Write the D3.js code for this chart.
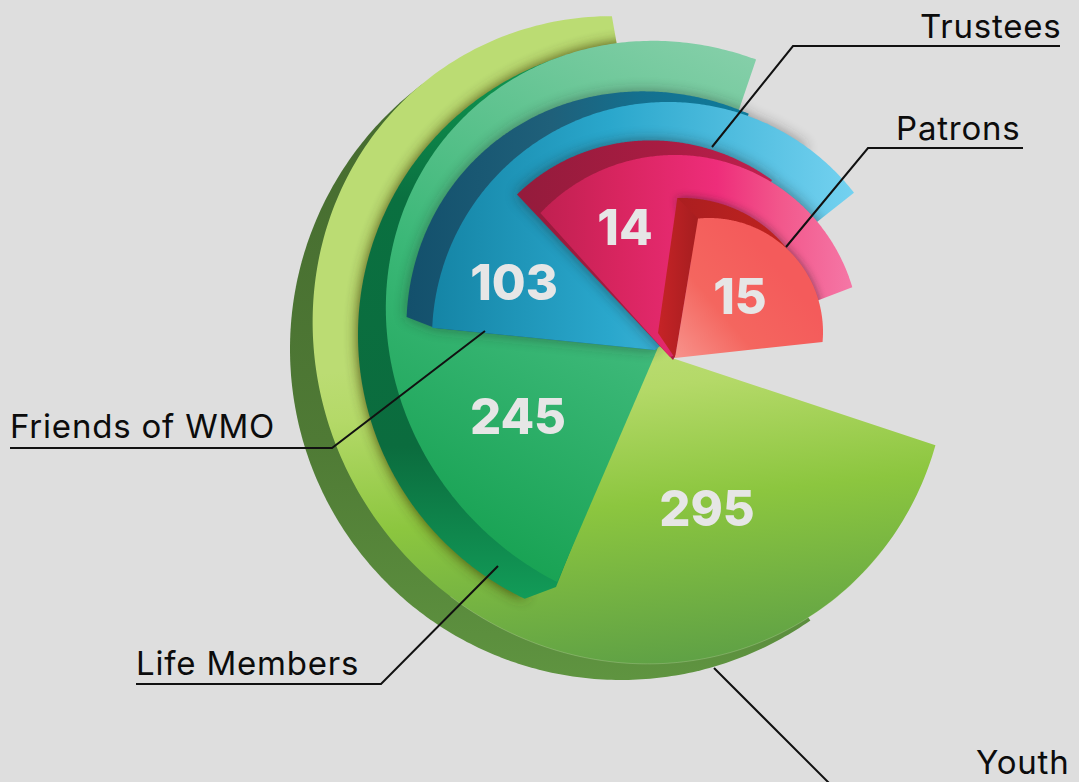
<!DOCTYPE html>
<html>
<head>
<meta charset="utf-8">
<script src="https://cdn.jsdelivr.net/npm/d3@7"></script>
<style>
  html, body { margin: 0; padding: 0; background: #dedede; overflow: hidden; }
  svg { display: block; }
  .name { font-family: Inter, sans-serif; font-size: 33px; font-weight: 400; letter-spacing: 0.8px; fill: #0c0c0c; }
  .count { font-family: Inter, sans-serif; font-size: 49px; font-weight: 800; fill: #e6e6e6; text-anchor: middle; }
</style>
</head>
<body>
<div id="chart"></div>
<script>
// Values
const categories = ["Youth", "Life Members", "Friends of WMO", "Trustees", "Patrons"];
const members = [295, 245, 103, 14, 15];

const width = 1079;
const height = 782;

// Rim of each wedge: centre, radii along the tilted axes, tilt, sweep (degrees clockwise from north)
const faceRim = d3.scaleOrdinal().domain(categories).range([
    { cx: 630, cy: 340, rx: 330, ry: 311, rot: 55, a0: 109, a1: 356.8, apex: [672, 358] },
    { cx: 673, cy: 328, rx: 297, ry: 277, rot: 45, a0: 204.5, a1: 377.2, apex: [657, 350] },
    { cx: 668, cy: 338, rx: 236, ry: 236, rot: 0, a0: 272.5, a1: 412, apex: [655, 350] },
    { cx: 675, cy: 340, rx: 185, ry: 185, rot: 0, a0: 313.3, a1: 433.4, apex: [670, 357] },
    { cx: 709, cy: 332, rx: 114, ry: 114, rot: 0, a0: 354.5, a1: 455, apex: [675, 358] }
]);
const wallRim = d3.scaleOrdinal().domain(categories).range([
    { cx: 621, cy: 349, rx: 331, ry: 331, rot: 0, a0: 145.1, a1: 323.4, apex: [621, 349] },
    { cx: 650, cy: 335, rx: 292, ry: 292, rot: 0, a0: 205.4, a1: 345, apex: [650, 350], corner: [556, 587] },
    { cx: 660, cy: 345, rx: 262, ry: 245, rot: 45, a0: 276.3, a1: 381, apex: [655, 350], corner: [435, 328] },
    { cx: 660, cy: 340, rx: 204, ry: 195, rot: 45, a0: 315.5, a1: 395, apex: [673, 360] },
    { cx: 682, cy: 332, rx: 134, ry: 134, rot: 0, a0: 358, a1: 411.3, apex: [700, 300] }
]);
// Where the number sits on each wedge
const countPos = d3.scaleOrdinal().domain(categories).range([[707, 526], [518, 434], [514, 300], [625, 245], [740, 314]]);
// Leader line from the wedge to the underline of its name
const leader = d3.scaleOrdinal().domain(categories).range([
    [[714, 668], [830, 784], [1075, 784]],
    [[498, 566], [381, 684], [136, 684]],
    [[485, 331], [332, 448], [10, 448]],
    [[712, 147], [793, 46], [1060, 46]],
    [[786, 247], [868, 148], [1023, 148]]
]);
const namePos = d3.scaleOrdinal().domain(categories).range([[976, 774], [136, 675], [10, 438], [920, 38], [896, 140]]);

const faceGrad = d3.scaleOrdinal().domain(categories).range([
    { from: [630, 340], to: [665, 665], stops: [[0, "#bbdc73"], [0.15, "#b4d968"], [0.5, "#8cc63f"], [1, "#5fa145"]] },
    { from: [760, 60], to: [480, 580], stops: [[0, "#85cfa9"], [0.55, "#3cb878"], [1, "#14a04f"]] },
    { from: [435, 0], to: [851, 0], stops: [[0, "#1585a6"], [0.42, "#2aa7cc"], [1, "#73d1f0"]] },
    { from: [540, 0], to: [850, 0], stops: [[0, "#c02050"], [0.26, "#d92560"], [0.57, "#ee2d7a"], [0.78, "#f2588c"], [1, "#f576a5"]] },
    { from: [680, 355], to: [780, 270], stops: [[0, "#f78f88"], [0.45, "#f4665f"], [1, "#f45b5b"]] }
]);
const wallGrad = d3.scaleOrdinal().domain(categories).range([
    { from: [0, 80], to: [0, 680], stops: [[0, "#456a2f"], [0.6, "#4f7a35"], [1, "#5f9440"]] },
    { from: [0, 50], to: [0, 600], stops: [[0, "#0f9a52"], [0.27, "#0a7040"], [0.72, "#0b6c3e"], [1, "#129c58"]] },
    { from: [407, 0], to: [735, 0], stops: [[0, "#13506c"], [0.44, "#1f607a"], [0.71, "#14708f"], [1, "#0f7a9a"]] },
    { from: [517, 0], to: [780, 0], stops: [[0, "#941b3c"], [0.55, "#a81c42"], [1, "#c2204f"]] },
    { from: [677, 0], to: [787, 0], stops: [[0, "#ab1e20"], [1, "#c0231f"]] }
]);

const rad = Math.PI / 180;
const line = d3.line();

function rim(e) {
    return d3.quantize(d3.interpolateNumber(e.a0, e.a1), 240).map(deg => {
        const t = (deg - e.rot) * rad;
        const r = e.rx * e.ry / Math.hypot(e.ry * Math.sin(t), e.rx * Math.cos(t));
        const p = d3.pointRadial(deg * rad, r);
        return [e.cx + p[0], e.cy + p[1]];
    });
}
const facePath = c => { const e = faceRim(c); return line([e.apex, ...rim(e)]) + "Z"; };
const wallPath = c => {
    const e = wallRim(c);
    const pts = e.corner ? [e.apex, e.corner, ...rim(e)] : [e.apex, ...rim(e)];
    return line(pts) + "Z";
};
// Shape that throws the shadow: no shadow along the straight cut edges of the two big wedges
function shadowPath(d) {
    const e = faceRim(d.name);
    if (d.i === 1) {
        return line([[500, 350], ...rim(wallRim(d.name))]) + "Z"
            + line([[600, 300], ...rim({ ...e, a0: 300 })]) + "Z";
    }
    if (d.i === 2) {
        return wallPath(d.name) + line([e.apex, ...rim({ ...e, a1: e.a1 - 16 })]) + "Z";
    }
    return wallPath(d.name) + facePath(d.name);
}

const svg = d3.select("#chart").append("svg")
    .attr("width", width)
    .attr("height", height);
const defs = svg.append("defs");

function addGradient(id, g) {
    const lg = defs.append("linearGradient").attr("id", id)
        .attr("gradientUnits", "userSpaceOnUse")
        .attr("x1", g.from[0]).attr("y1", g.from[1])
        .attr("x2", g.to[0]).attr("y2", g.to[1]);
    g.stops.forEach(s => lg.append("stop").attr("offset", s[0]).attr("stop-color", s[1]));
}
[["a", 7], ["b", 4]].forEach(k => {
    const f = defs.append("filter").attr("id", "blur-" + k[0])
        .attr("filterUnits", "userSpaceOnUse")
        .attr("x", 0).attr("y", 0).attr("width", width).attr("height", height);
    f.append("feGaussianBlur").attr("stdDeviation", k[1]);
});
categories.forEach((c, i) => {
    addGradient("face-" + i, faceGrad(c));
    addGradient("wall-" + i, wallGrad(c));
    defs.append("clipPath").attr("id", "clip-" + i).append("path").attr("d", facePath(c));
});
addGradient("side-4", { from: [660, 0], to: [695, 0], stops: [[0, "#c42326"], [1, "#a81e20"]] });

const rows = categories.map((c, i) => ({ name: c, value: members[i], i: i }));

const wedges = svg.selectAll("g.wedge")
    .data(rows)
    .join("g")
    .attr("class", "wedge");

wedges.each(function (d) {
    const g = d3.select(this);
    if (d.i === 0) {
        g.append("path").attr("d", wallPath(d.name)).attr("fill", "url(#wall-0)");
        g.append("path").attr("d", facePath(d.name)).attr("fill", "url(#face-0)");
        // faint light edge where the face meets the wall
        const e = faceRim(d.name);
        g.append("path")
            .attr("d", line(rim({ ...e, a0: 130, a1: 215 })))
            .attr("fill", "none")
            .attr("stroke", "#e4eccb")
            .attr("stroke-width", 0.7)
            .attr("opacity", 0.35);
        return;
    }
    // soft shadow the wedge drops on the one behind it
    const shadow = g.append("g").attr("opacity", d.i === 1 ? 0.9 : d.i === 2 ? 0.45 : 0.55);
    if (d.i !== 2) shadow.attr("clip-path", `url(#clip-${d.i === 1 ? 0 : d.i - 1})`);
    shadow.append("path")
        .attr("d", shadowPath(d))
        .attr("fill", d.i === 1 ? "#3f3a10" : "#222")
        .attr("filter", d.i === 4 ? "url(#blur-b)" : "url(#blur-a)");

    g.append("path").attr("d", wallPath(d.name)).attr("fill", `url(#wall-${d.i})`);
    if (d.i === 4) {
        // left side of the smallest wedge
        const top = rim(wallRim(d.name))[0];
        const inner = rim(faceRim(d.name))[0];
        const foot = faceRim(d.name).apex;
        g.append("path")
            .attr("d", line([top, inner, foot, [658, 333]]) + "Z")
            .attr("fill", "url(#side-4)");
    }
    g.append("path").attr("d", facePath(d.name)).attr("fill", `url(#face-${d.i})`);
});

svg.selectAll("path.leader")
    .data(rows)
    .join("path")
    .attr("class", "leader")
    .attr("d", d => line(leader(d.name)))
    .attr("fill", "none")
    .attr("stroke", "#111")
    .attr("stroke-width", 2);

svg.selectAll("text.name")
    .data(rows)
    .join("text")
    .attr("class", "name")
    .attr("x", d => namePos(d.name)[0])
    .attr("y", d => namePos(d.name)[1])
    .text(d => d.name);

svg.selectAll("text.count")
    .data(rows)
    .join("text")
    .attr("class", "count")
    .attr("x", d => countPos(d.name)[0])
    .attr("y", d => countPos(d.name)[1])
    .text(d => d.value);
</script>
</body>
</html>
